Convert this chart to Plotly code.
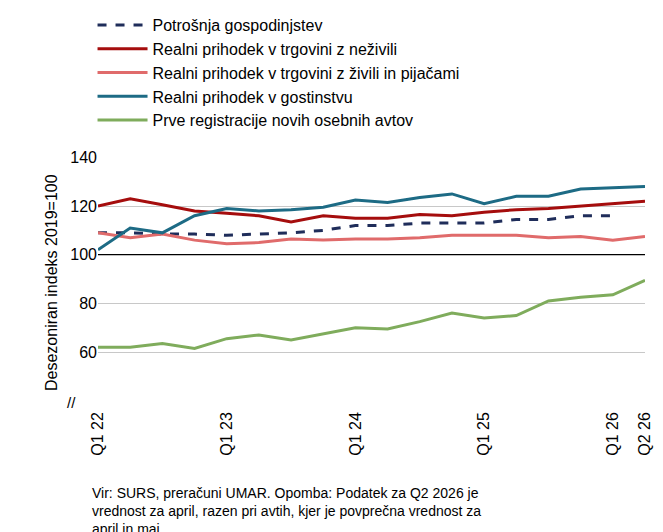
import plotly.graph_objects as go

quarters = ["Q1 22","Q2 22","Q3 22","Q4 22","Q1 23","Q2 23","Q3 23","Q4 23","Q1 24","Q2 24","Q3 24","Q4 24","Q1 25","Q2 25","Q3 25","Q4 25","Q1 26","Q2 26"]
tick_labels = ["Q1 22","Q1 23","Q1 24","Q1 25","Q1 26","Q2 26"]
potrosnja = [109,109,108.5,108.5,108,108.5,109,110,112,112,113,113,113,114.5,114.5,116,116]
nezivili = [120,123,120.5,118,117,116,113.5,116,115,115,116.5,116,117.5,118.5,119,120,121,122]
zivili = [109,107,108.5,106,104.5,105,106.5,106,106.5,106.5,107,108,108,108,107,107.5,106,107.5]
gostinstvo = [102,111,109,116,119,118,118.5,119.5,122.5,121.5,123.5,125,121,124,124,127,127.5,128]
avti = [62,62,63.5,61.5,65.5,67,65,67.5,70,69.5,72.5,76,74,75,81,82.5,83.5,89.5]

font = "Liberation Sans"
fig = go.Figure()
series = [
    ("Potrošnja gospodinjstev", potrosnja, "#1f2d5a", "dash"),
    ("Realni prihodek v trgovini z neživili", nezivili, "#a50d0d", "solid"),
    ("Realni prihodek v trgovini z živili in pijačami", zivili, "#e06b6b", "solid"),
    ("Realni prihodek v gostinstvu", gostinstvo, "#1d6b85", "solid"),
    ("Prve registracije novih osebnih avtov", avti, "#7fac5c", "solid"),
]
for name, vals, col, dash in series:
    fig.add_trace(go.Scatter(x=quarters[:len(vals)], y=vals, name=name, mode="lines",
                             line=dict(color=col, width=3, dash=dash)))

fig.add_shape(type="line", xref="paper", x0=0, x1=1, yref="y", y0=100, y1=100,
              line=dict(color="black", width=1.3))
fig.add_annotation(text="//", xref="paper", yref="paper", x=-0.06, y=-0.02, showarrow=False,
                   font=dict(size=15, color="black", family=font))
fig.add_annotation(text="Vir: SURS, preračuni UMAR. Opomba: Podatek za Q2 2026 je<br>vrednost za april, razen pri avtih, kjer je povprečna vrednost za<br>april in maj.",
                   xref="paper", yref="paper", x=-0.015, y=-0.30, xanchor="left", yanchor="top",
                   align="left", showarrow=False, font=dict(size=14, color="black", family=font))

fig.update_layout(
    width=663, height=532, paper_bgcolor="white", plot_bgcolor="white",
    margin=dict(l=90, r=26, t=131, b=132),
    font=dict(family=font, size=16, color="black"),
    showlegend=True,
    legend=dict(x=-0.01, y=1.5, xanchor="left", yanchor="bottom", font=dict(size=16),
                tracegroupgap=0, itemwidth=50, bgcolor="rgba(0,0,0,0)"),
    xaxis=dict(type="category", categoryorder="array", categoryarray=quarters,
               tickmode="array", tickvals=tick_labels, ticktext=tick_labels,
               tickangle=-90, range=[0, 17], showgrid=False, showline=False,
               ticks="", tickfont=dict(size=16)),
    yaxis=dict(range=[37, 140], tickvals=[60, 80, 100, 120, 140], showgrid=True,
               gridcolor="#c8c8c8", gridwidth=1, zeroline=False,
               title=dict(text="Desezoniran indeks 2019=100", font=dict(size=16), standoff=8),
               tickfont=dict(size=16)),
)
fig.update_layout(legend=dict(y=1.0, yanchor="bottom", yref="container"))
fig.update_layout(legend=dict(y=1.0, yref="container", yanchor="top"))
fig.write_html("out.html")
